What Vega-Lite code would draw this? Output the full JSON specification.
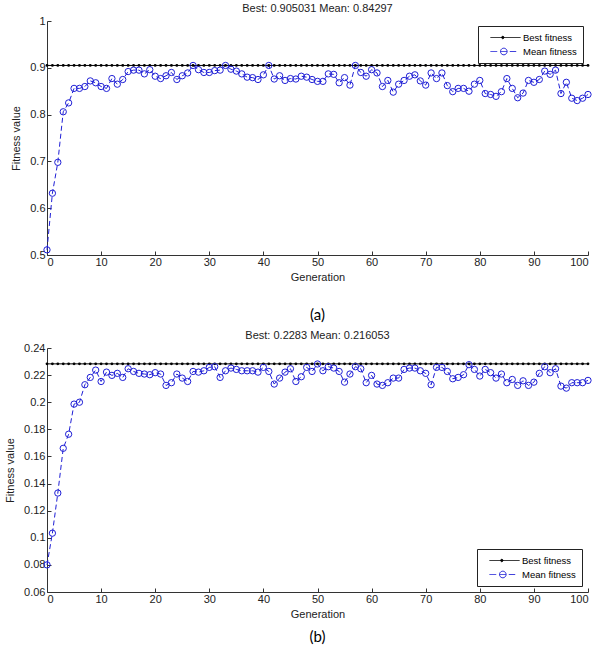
{
  "$schema": "https://vega.github.io/schema/vega-lite/v6.json",
  "padding": {"left": 4, "top": 3, "right": 5, "bottom": 0},
  "spacing": 0,
  "background": "white",
  "config": {
    "font": "Liberation Sans",
    "view": {"stroke": null, "fill": "white"},
    "axis": {"domainColor": "#333", "tickColor": "#333", "labelColor": "#222", "titleColor": "#222", "labelFontSize": 11, "titleFontSize": 11, "titleFontWeight": "normal", "grid": false, "tickSize": -4, "domainWidth": 1},
    "axisX": {"titlePadding": 4, "labelPadding": 5},
    "axisY": {"titlePadding": 8, "labelPadding": 6},
    "title": {"fontSize": 11, "fontWeight": "normal", "color": "#222", "offset": 1},
    "legend": {"title": null, "strokeColor": "#222", "fillColor": "white", "padding": 6, "labelFontSize": 9.5, "labelColor": "#000", "symbolSize": 100, "symbolStrokeWidth": 1, "rowPadding": 4, "labelOffset": 28, "symbolType": "stroke"}
  },
  "datasets": {
    "a": [
      {"gen":0,"Best fitness":0.905031,"Mean fitness":0.511},{"gen":1,"Best fitness":0.905031,"Mean fitness":0.632},{"gen":2,"Best fitness":0.905031,"Mean fitness":0.698},{"gen":3,"Best fitness":0.905031,"Mean fitness":0.806},{"gen":4,"Best fitness":0.905031,"Mean fitness":0.825},{"gen":5,"Best fitness":0.905031,"Mean fitness":0.856},{"gen":6,"Best fitness":0.905031,"Mean fitness":0.856},{"gen":7,"Best fitness":0.905031,"Mean fitness":0.860},{"gen":8,"Best fitness":0.905031,"Mean fitness":0.872},{"gen":9,"Best fitness":0.905031,"Mean fitness":0.868},
      {"gen":10,"Best fitness":0.905031,"Mean fitness":0.860},{"gen":11,"Best fitness":0.905031,"Mean fitness":0.856},{"gen":12,"Best fitness":0.905031,"Mean fitness":0.877},{"gen":13,"Best fitness":0.905031,"Mean fitness":0.865},{"gen":14,"Best fitness":0.905031,"Mean fitness":0.875},{"gen":15,"Best fitness":0.905031,"Mean fitness":0.892},{"gen":16,"Best fitness":0.905031,"Mean fitness":0.895},{"gen":17,"Best fitness":0.905031,"Mean fitness":0.895},{"gen":18,"Best fitness":0.905031,"Mean fitness":0.887},{"gen":19,"Best fitness":0.905031,"Mean fitness":0.896},
      {"gen":20,"Best fitness":0.905031,"Mean fitness":0.882},{"gen":21,"Best fitness":0.905031,"Mean fitness":0.877},{"gen":22,"Best fitness":0.905031,"Mean fitness":0.883},{"gen":23,"Best fitness":0.905031,"Mean fitness":0.890},{"gen":24,"Best fitness":0.905031,"Mean fitness":0.875},{"gen":25,"Best fitness":0.905031,"Mean fitness":0.883},{"gen":26,"Best fitness":0.905031,"Mean fitness":0.889},{"gen":27,"Best fitness":0.905031,"Mean fitness":0.905},{"gen":28,"Best fitness":0.905031,"Mean fitness":0.896},{"gen":29,"Best fitness":0.905031,"Mean fitness":0.890},
      {"gen":30,"Best fitness":0.905031,"Mean fitness":0.890},{"gen":31,"Best fitness":0.905031,"Mean fitness":0.894},{"gen":32,"Best fitness":0.905031,"Mean fitness":0.895},{"gen":33,"Best fitness":0.905031,"Mean fitness":0.905},{"gen":34,"Best fitness":0.905031,"Mean fitness":0.897},{"gen":35,"Best fitness":0.905031,"Mean fitness":0.893},{"gen":36,"Best fitness":0.905031,"Mean fitness":0.887},{"gen":37,"Best fitness":0.905031,"Mean fitness":0.880},{"gen":38,"Best fitness":0.905031,"Mean fitness":0.879},{"gen":39,"Best fitness":0.905031,"Mean fitness":0.875},
      {"gen":40,"Best fitness":0.905031,"Mean fitness":0.885},{"gen":41,"Best fitness":0.905031,"Mean fitness":0.905},{"gen":42,"Best fitness":0.905031,"Mean fitness":0.876},{"gen":43,"Best fitness":0.905031,"Mean fitness":0.883},{"gen":44,"Best fitness":0.905031,"Mean fitness":0.873},{"gen":45,"Best fitness":0.905031,"Mean fitness":0.877},{"gen":46,"Best fitness":0.905031,"Mean fitness":0.876},{"gen":47,"Best fitness":0.905031,"Mean fitness":0.882},{"gen":48,"Best fitness":0.905031,"Mean fitness":0.880},{"gen":49,"Best fitness":0.905031,"Mean fitness":0.875},
      {"gen":50,"Best fitness":0.905031,"Mean fitness":0.871},{"gen":51,"Best fitness":0.905031,"Mean fitness":0.871},{"gen":52,"Best fitness":0.905031,"Mean fitness":0.887},{"gen":53,"Best fitness":0.905031,"Mean fitness":0.886},{"gen":54,"Best fitness":0.905031,"Mean fitness":0.868},{"gen":55,"Best fitness":0.905031,"Mean fitness":0.879},{"gen":56,"Best fitness":0.905031,"Mean fitness":0.863},{"gen":57,"Best fitness":0.905031,"Mean fitness":0.905},{"gen":58,"Best fitness":0.905031,"Mean fitness":0.890},{"gen":59,"Best fitness":0.905031,"Mean fitness":0.882},
      {"gen":60,"Best fitness":0.905031,"Mean fitness":0.896},{"gen":61,"Best fitness":0.905031,"Mean fitness":0.889},{"gen":62,"Best fitness":0.905031,"Mean fitness":0.860},{"gen":63,"Best fitness":0.905031,"Mean fitness":0.873},{"gen":64,"Best fitness":0.905031,"Mean fitness":0.848},{"gen":65,"Best fitness":0.905031,"Mean fitness":0.865},{"gen":66,"Best fitness":0.905031,"Mean fitness":0.873},{"gen":67,"Best fitness":0.905031,"Mean fitness":0.882},{"gen":68,"Best fitness":0.905031,"Mean fitness":0.885},{"gen":69,"Best fitness":0.905031,"Mean fitness":0.872},
      {"gen":70,"Best fitness":0.905031,"Mean fitness":0.863},{"gen":71,"Best fitness":0.905031,"Mean fitness":0.889},{"gen":72,"Best fitness":0.905031,"Mean fitness":0.877},{"gen":73,"Best fitness":0.905031,"Mean fitness":0.889},{"gen":74,"Best fitness":0.905031,"Mean fitness":0.862},{"gen":75,"Best fitness":0.905031,"Mean fitness":0.849},{"gen":76,"Best fitness":0.905031,"Mean fitness":0.856},{"gen":77,"Best fitness":0.905031,"Mean fitness":0.856},{"gen":78,"Best fitness":0.905031,"Mean fitness":0.850},{"gen":79,"Best fitness":0.905031,"Mean fitness":0.865},
      {"gen":80,"Best fitness":0.905031,"Mean fitness":0.873},{"gen":81,"Best fitness":0.905031,"Mean fitness":0.845},{"gen":82,"Best fitness":0.905031,"Mean fitness":0.843},{"gen":83,"Best fitness":0.905031,"Mean fitness":0.839},{"gen":84,"Best fitness":0.905031,"Mean fitness":0.849},{"gen":85,"Best fitness":0.905031,"Mean fitness":0.877},{"gen":86,"Best fitness":0.905031,"Mean fitness":0.856},{"gen":87,"Best fitness":0.905031,"Mean fitness":0.836},{"gen":88,"Best fitness":0.905031,"Mean fitness":0.846},{"gen":89,"Best fitness":0.905031,"Mean fitness":0.873},
      {"gen":90,"Best fitness":0.905031,"Mean fitness":0.869},{"gen":91,"Best fitness":0.905031,"Mean fitness":0.875},{"gen":92,"Best fitness":0.905031,"Mean fitness":0.893},{"gen":93,"Best fitness":0.905031,"Mean fitness":0.886},{"gen":94,"Best fitness":0.905031,"Mean fitness":0.895},{"gen":95,"Best fitness":0.905031,"Mean fitness":0.845},{"gen":96,"Best fitness":0.905031,"Mean fitness":0.869},{"gen":97,"Best fitness":0.905031,"Mean fitness":0.835},{"gen":98,"Best fitness":0.905031,"Mean fitness":0.830},{"gen":99,"Best fitness":0.905031,"Mean fitness":0.835},
      {"gen":100,"Best fitness":0.905031,"Mean fitness":0.843}
    ],
    "b": [
      {"gen":0,"Best fitness":0.2283,"Mean fitness":0.080},{"gen":1,"Best fitness":0.2283,"Mean fitness":0.1034},{"gen":2,"Best fitness":0.2283,"Mean fitness":0.133},{"gen":3,"Best fitness":0.2283,"Mean fitness":0.166},{"gen":4,"Best fitness":0.2283,"Mean fitness":0.1764},{"gen":5,"Best fitness":0.2283,"Mean fitness":0.1986},{"gen":6,"Best fitness":0.2283,"Mean fitness":0.200},{"gen":7,"Best fitness":0.2283,"Mean fitness":0.2129},{"gen":8,"Best fitness":0.2283,"Mean fitness":0.2183},{"gen":9,"Best fitness":0.2283,"Mean fitness":0.2237},
      {"gen":10,"Best fitness":0.2283,"Mean fitness":0.2153},{"gen":11,"Best fitness":0.2283,"Mean fitness":0.2222},{"gen":12,"Best fitness":0.2283,"Mean fitness":0.2198},{"gen":13,"Best fitness":0.2283,"Mean fitness":0.2213},{"gen":14,"Best fitness":0.2283,"Mean fitness":0.2183},{"gen":15,"Best fitness":0.2283,"Mean fitness":0.2247},{"gen":16,"Best fitness":0.2283,"Mean fitness":0.2227},{"gen":17,"Best fitness":0.2283,"Mean fitness":0.2213},{"gen":18,"Best fitness":0.2283,"Mean fitness":0.2208},{"gen":19,"Best fitness":0.2283,"Mean fitness":0.2203},
      {"gen":20,"Best fitness":0.2283,"Mean fitness":0.2218},{"gen":21,"Best fitness":0.2283,"Mean fitness":0.2208},{"gen":22,"Best fitness":0.2283,"Mean fitness":0.2124},{"gen":23,"Best fitness":0.2283,"Mean fitness":0.2144},{"gen":24,"Best fitness":0.2283,"Mean fitness":0.2208},{"gen":25,"Best fitness":0.2283,"Mean fitness":0.2178},{"gen":26,"Best fitness":0.2283,"Mean fitness":0.2153},{"gen":27,"Best fitness":0.2283,"Mean fitness":0.2227},{"gen":28,"Best fitness":0.2283,"Mean fitness":0.2222},{"gen":29,"Best fitness":0.2283,"Mean fitness":0.2232},
      {"gen":30,"Best fitness":0.2283,"Mean fitness":0.2257},{"gen":31,"Best fitness":0.2283,"Mean fitness":0.2262},{"gen":32,"Best fitness":0.2283,"Mean fitness":0.2183},{"gen":33,"Best fitness":0.2283,"Mean fitness":0.2232},{"gen":34,"Best fitness":0.2283,"Mean fitness":0.2252},{"gen":35,"Best fitness":0.2283,"Mean fitness":0.2242},{"gen":36,"Best fitness":0.2283,"Mean fitness":0.2232},{"gen":37,"Best fitness":0.2283,"Mean fitness":0.2232},{"gen":38,"Best fitness":0.2283,"Mean fitness":0.2232},{"gen":39,"Best fitness":0.2283,"Mean fitness":0.2222},
      {"gen":40,"Best fitness":0.2283,"Mean fitness":0.2257},{"gen":41,"Best fitness":0.2283,"Mean fitness":0.2227},{"gen":42,"Best fitness":0.2283,"Mean fitness":0.2134},{"gen":43,"Best fitness":0.2283,"Mean fitness":0.2178},{"gen":44,"Best fitness":0.2283,"Mean fitness":0.2222},{"gen":45,"Best fitness":0.2283,"Mean fitness":0.2247},{"gen":46,"Best fitness":0.2283,"Mean fitness":0.2153},{"gen":47,"Best fitness":0.2283,"Mean fitness":0.2188},{"gen":48,"Best fitness":0.2283,"Mean fitness":0.2257},{"gen":49,"Best fitness":0.2283,"Mean fitness":0.2227},
      {"gen":50,"Best fitness":0.2283,"Mean fitness":0.2282},{"gen":51,"Best fitness":0.2283,"Mean fitness":0.2232},{"gen":52,"Best fitness":0.2283,"Mean fitness":0.2262},{"gen":53,"Best fitness":0.2283,"Mean fitness":0.2252},{"gen":54,"Best fitness":0.2283,"Mean fitness":0.2227},{"gen":55,"Best fitness":0.2283,"Mean fitness":0.2148},{"gen":56,"Best fitness":0.2283,"Mean fitness":0.2208},{"gen":57,"Best fitness":0.2283,"Mean fitness":0.2262},{"gen":58,"Best fitness":0.2283,"Mean fitness":0.2247},{"gen":59,"Best fitness":0.2283,"Mean fitness":0.2144},
      {"gen":60,"Best fitness":0.2283,"Mean fitness":0.2198},{"gen":61,"Best fitness":0.2283,"Mean fitness":0.2134},{"gen":62,"Best fitness":0.2283,"Mean fitness":0.2124},{"gen":63,"Best fitness":0.2283,"Mean fitness":0.2144},{"gen":64,"Best fitness":0.2283,"Mean fitness":0.2178},{"gen":65,"Best fitness":0.2283,"Mean fitness":0.2178},{"gen":66,"Best fitness":0.2283,"Mean fitness":0.2242},{"gen":67,"Best fitness":0.2283,"Mean fitness":0.2252},{"gen":68,"Best fitness":0.2283,"Mean fitness":0.2252},{"gen":69,"Best fitness":0.2283,"Mean fitness":0.2232},
      {"gen":70,"Best fitness":0.2283,"Mean fitness":0.2213},{"gen":71,"Best fitness":0.2283,"Mean fitness":0.2129},{"gen":72,"Best fitness":0.2283,"Mean fitness":0.2257},{"gen":73,"Best fitness":0.2283,"Mean fitness":0.2257},{"gen":74,"Best fitness":0.2283,"Mean fitness":0.2227},{"gen":75,"Best fitness":0.2283,"Mean fitness":0.2173},{"gen":76,"Best fitness":0.2283,"Mean fitness":0.2183},{"gen":77,"Best fitness":0.2283,"Mean fitness":0.2203},{"gen":78,"Best fitness":0.2283,"Mean fitness":0.2277},{"gen":79,"Best fitness":0.2283,"Mean fitness":0.2242},
      {"gen":80,"Best fitness":0.2283,"Mean fitness":0.2193},{"gen":81,"Best fitness":0.2283,"Mean fitness":0.2242},{"gen":82,"Best fitness":0.2283,"Mean fitness":0.2218},{"gen":83,"Best fitness":0.2283,"Mean fitness":0.2178},{"gen":84,"Best fitness":0.2283,"Mean fitness":0.2208},{"gen":85,"Best fitness":0.2283,"Mean fitness":0.2144},{"gen":86,"Best fitness":0.2283,"Mean fitness":0.2168},{"gen":87,"Best fitness":0.2283,"Mean fitness":0.2124},{"gen":88,"Best fitness":0.2283,"Mean fitness":0.2158},{"gen":89,"Best fitness":0.2283,"Mean fitness":0.2124},
      {"gen":90,"Best fitness":0.2283,"Mean fitness":0.2148},{"gen":91,"Best fitness":0.2283,"Mean fitness":0.2213},{"gen":92,"Best fitness":0.2283,"Mean fitness":0.2262},{"gen":93,"Best fitness":0.2283,"Mean fitness":0.2218},{"gen":94,"Best fitness":0.2283,"Mean fitness":0.2247},{"gen":95,"Best fitness":0.2283,"Mean fitness":0.2119},{"gen":96,"Best fitness":0.2283,"Mean fitness":0.2104},{"gen":97,"Best fitness":0.2283,"Mean fitness":0.2144},{"gen":98,"Best fitness":0.2283,"Mean fitness":0.2144},{"gen":99,"Best fitness":0.2283,"Mean fitness":0.2144},
      {"gen":100,"Best fitness":0.2283,"Mean fitness":0.2161}
    ],
    "capA": [{"label": "(a)"}],
    "capB": [{"label": "(b)"}]
  },
  "vconcat": [
    {
      "title": "Best: 0.905031 Mean: 0.84297",
      "width": 541,
      "height": 234,
      "data": {"name": "a"},
      "transform": [{"fold": ["Best fitness", "Mean fitness"], "as": ["series", "value"]}],
      "encoding": {
        "x": {"field": "gen", "type": "quantitative", "scale": {"domain": [0, 100], "nice": false}, "axis": {"title": "Generation", "values": [0,10,20,30,40,50,60,70,80,90,100]}},
        "y": {"field": "value", "type": "quantitative", "scale": {"domain": [0.5, 1], "nice": false, "zero": false}, "axis": {"title": "Fitness value", "values": [0.5,0.6,0.7,0.8,0.9,1], "format": "~g"}}
      },
      "layer": [
        {
          "mark": {"type": "line", "strokeWidth": 1},
          "encoding": {
            "color": {"field": "series", "type": "nominal", "scale": {"domain": ["Best fitness", "Mean fitness"], "range": ["#000000", "#1f1fd6"]},
              "legend": {"orient": "top-right", "offset": 5,
                "encode": {"symbols": {"update": {
                  "shape": {"signal": "datum.value === 'Best fitness' ? 'M0.2,0H6.2M2.9,0A0.24,0.24,0,1,1,2.42,0A0.24,0.24,0,1,1,2.9,0' : 'M0.2,0H1.54M2.2,0H3.52M4.06,0H5.34M3.52,0A0.66,0.66,0,1,1,2.2,0A0.66,0.66,0,1,1,3.52,0'"},
                  "fill": {"signal": "datum.value === 'Best fitness' ? '#000000' : 'white'"},
                  "strokeDash": {"value": [1, 0]}}}}}},
            "strokeDash": {"field": "series", "type": "nominal", "scale": {"domain": ["Best fitness", "Mean fitness"], "range": [[1, 0], [5, 3]]}, "legend": null}
          }
        },
        {
          "transform": [{"filter": "datum.series === 'Best fitness'"}],
          "mark": {"type": "point", "filled": true, "shape": "circle", "size": 8, "color": "#000000", "opacity": 1}
        },
        {
          "transform": [{"filter": "datum.series === 'Mean fitness'"}],
          "mark": {"type": "point", "filled": false, "shape": "circle", "size": 40, "color": "#1f1fd6", "strokeWidth": 1, "opacity": 1}
        }
      ]
    },
    {
      "width": 541,
      "height": 48,
      "data": {"name": "capA"},
      "mark": {"type": "text", "font": "Lato", "fontSize": 15, "color": "#000", "dy": 8.5},
      "encoding": {"text": {"field": "label", "type": "nominal"}}
    },
    {
      "title": "Best: 0.2283 Mean: 0.216053",
      "width": 541,
      "height": 244,
      "data": {"name": "b"},
      "transform": [{"fold": ["Best fitness", "Mean fitness"], "as": ["series", "value"]}],
      "encoding": {
        "x": {"field": "gen", "type": "quantitative", "scale": {"domain": [0, 100], "nice": false}, "axis": {"title": "Generation", "values": [0,10,20,30,40,50,60,70,80,90,100]}},
        "y": {"field": "value", "type": "quantitative", "scale": {"domain": [0.06, 0.24], "nice": false, "zero": false}, "axis": {"title": "Fitness value", "values": [0.06,0.08,0.1,0.12,0.14,0.16,0.18,0.2,0.22,0.24], "format": "~g"}}
      },
      "layer": [
        {
          "mark": {"type": "line", "strokeWidth": 1},
          "encoding": {
            "color": {"field": "series", "type": "nominal", "scale": {"domain": ["Best fitness", "Mean fitness"], "range": ["#000000", "#1f1fd6"]},
              "legend": {"orient": "bottom-right", "offset": 6,
                "encode": {"symbols": {"update": {
                  "shape": {"signal": "datum.value === 'Best fitness' ? 'M0.2,0H6.2M2.9,0A0.24,0.24,0,1,1,2.42,0A0.24,0.24,0,1,1,2.9,0' : 'M0.2,0H1.54M2.2,0H3.52M4.06,0H5.34M3.52,0A0.66,0.66,0,1,1,2.2,0A0.66,0.66,0,1,1,3.52,0'"},
                  "fill": {"signal": "datum.value === 'Best fitness' ? '#000000' : 'white'"},
                  "strokeDash": {"value": [1, 0]}}}}}},
            "strokeDash": {"field": "series", "type": "nominal", "scale": {"domain": ["Best fitness", "Mean fitness"], "range": [[1, 0], [5, 3]]}, "legend": null}
          }
        },
        {
          "transform": [{"filter": "datum.series === 'Best fitness'"}],
          "mark": {"type": "point", "filled": true, "shape": "circle", "size": 8, "color": "#000000", "opacity": 1}
        },
        {
          "transform": [{"filter": "datum.series === 'Mean fitness'"}],
          "mark": {"type": "point", "filled": false, "shape": "circle", "size": 40, "color": "#1f1fd6", "strokeWidth": 1, "opacity": 1}
        }
      ]
    },
    {
      "width": 541,
      "height": 30,
      "data": {"name": "capB"},
      "mark": {"type": "text", "font": "Lato", "fontSize": 15, "color": "#000", "dy": 3},
      "encoding": {"text": {"field": "label", "type": "nominal"}}
    }
  ]
}
